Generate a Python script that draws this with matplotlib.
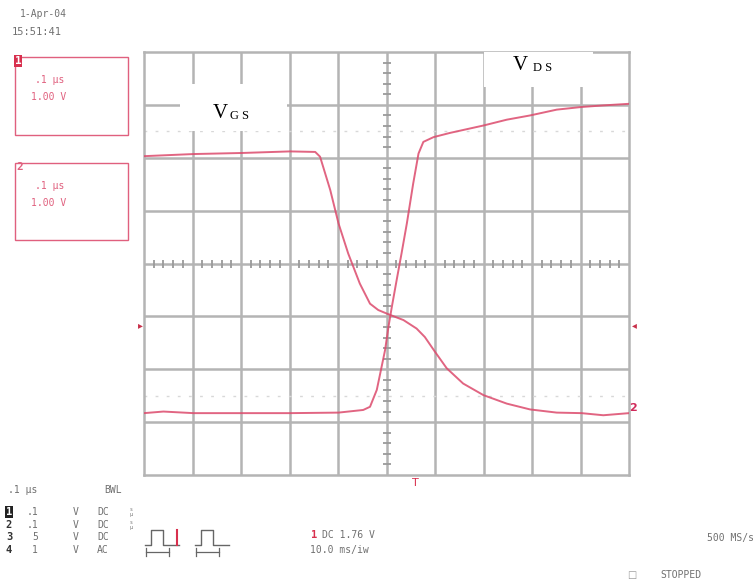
import matplotlib
matplotlib.use("Agg")
import matplotlib.pyplot as plt
from matplotlib.patches import Rectangle

# ---- data (time in divisions 0..10, amplitude in divisions -4..4) ----
vgs_t = [0.0, 1.02, 2.01, 3.01, 3.53, 3.63, 3.84, 4.01, 4.21, 4.45, 4.66, 4.83, 5.04,
         5.35, 5.62, 5.79, 6.0, 6.24, 6.58, 7.0, 7.48, 7.96, 8.51, 9.02, 9.47, 10.0]
vgs_v = [2.03, 2.07, 2.09, 2.12, 2.11, 2.02, 1.39, 0.76, 0.19, -0.38, -0.76, -0.88, -0.96,
         -1.07, -1.23, -1.39, -1.67, -1.98, -2.27, -2.49, -2.65, -2.76, -2.82, -2.83, -2.87, -2.83]
vds_t = [0.0, 0.4, 1.02, 2.01, 3.01, 4.01, 4.52, 4.66, 4.80, 4.90, 4.97, 5.04, 5.11, 5.21,
         5.31, 5.42, 5.55, 5.66, 5.76, 5.97, 6.31, 7.0, 7.48, 7.96, 8.51, 9.02, 9.47, 10.0]
vds_v = [-2.83, -2.80, -2.83, -2.83, -2.83, -2.82, -2.77, -2.71, -2.39, -1.95, -1.64, -1.20,
         -0.82, -0.31, 0.19, 0.76, 1.51, 2.08, 2.30, 2.39, 2.47, 2.61, 2.72, 2.80, 2.91, 2.96, 2.99, 3.02]

date_text = "1-Apr-04"
time_text = "15:51:41"
ch_box_lines = [".1 µs", "1.00 V"]
bottom_rows = [("1", ".1", "V", "DC"), ("2", ".1", "V", "DC"), ("3", "5", "V", "DC"), ("4", "1", "V", "AC")]

W, H = 754, 585
fig = plt.figure(figsize=(W / 100, H / 100), dpi=100)
fig.patch.set_facecolor("white")

def fx(px):
    return px / W

def fy(py):
    return 1 - py / H

L, R, T, B = 144, 629, 52, 475
ax = fig.add_axes([fx(L), fy(B), fx(R - L), (B - T) / H])
ax.set_xlim(0, 10)
ax.set_ylim(-4, 4)
ax.set_xticks([])
ax.set_yticks([])
for s in ax.spines.values():
    s.set_color("#b4b4b4")
    s.set_linewidth(1.8)

grid_c = "#b4b4b4"
for x in range(1, 10):
    ax.axvline(x, color=grid_c, lw=1.8, zorder=1)
for y in range(-3, 4):
    ax.axhline(y, color=grid_c, lw=1.8, zorder=1)
# faint dotted reference lines
for y in (2.5, -2.5):
    ax.axhline(y, color="#d8d8d8", lw=1.0, ls=(0, (2, 6)), zorder=1)
# minor ticks on centre axes
mx = [i * 0.2 for i in range(1, 50) if i % 5 != 0]
ax.plot(mx, [0] * len(mx), ls="none", marker="|", ms=6, mew=1.3, color="#9a9a9a", zorder=2)
my = [-4 + i * 0.2 for i in range(1, 40) if i % 5 != 0]
ax.plot([5] * len(my), my, ls="none", marker="_", ms=6, mew=1.3, color="#9a9a9a", zorder=2)

# white label boxes
ax.add_patch(Rectangle((0.75, 3.4 - 0.0), 2.2, -0.9, transform=ax.transData, facecolor="white",
                       edgecolor="none", zorder=3))
ax.add_patch(Rectangle((7.0, 4.0), 2.25, -0.66, facecolor="white", edgecolor="none", zorder=3, clip_on=False))

trace_c = "#dc4a6c"
ax.plot(vgs_t, vgs_v, color=trace_c, lw=1.4, alpha=0.85, zorder=4)
ax.plot(vds_t, vds_v, color=trace_c, lw=1.4, alpha=0.85, zorder=4)

serif = "Liberation Serif"
fig.text(fx(213), fy(113), "V", fontsize=15, family=serif, va="center", ha="left")
fig.text(fx(230), fy(116), "G S", fontsize=9, family=serif, va="center", ha="left")
fig.text(fx(513), fy(65), "V", fontsize=15, family=serif, va="center", ha="left")
fig.text(fx(533), fy(68), "D S", fontsize=9, family=serif, va="center", ha="left")

mono = "DejaVu Sans Mono"
grey = "#707070"
pink = "#e0607e"
fig.text(fx(20), fy(14), date_text, fontsize=7, family=mono, color=grey, va="center")
fig.text(fx(12), fy(32), time_text, fontsize=7.5, family=mono, color=grey, va="center")

# channel info boxes
for (top, bot, label) in ((57, 135, "1"), (163, 240, "2")):
    fig.patches.append(Rectangle((fx(15), fy(bot)), fx(113), (bot - top) / H, transform=fig.transFigure,
                                 facecolor="none", edgecolor=pink, lw=1.0))
    fig.text(fx(35), fy(top + 23), ch_box_lines[0], fontsize=7, family=mono, color=pink, va="center")
    fig.text(fx(31), fy(top + 40), ch_box_lines[1], fontsize=7, family=mono, color=pink, va="center")
fig.text(fx(18), fy(61), "1", fontsize=8, family=mono, color="white", va="center", ha="center",
         fontweight="bold", bbox=dict(boxstyle="square,pad=0.1", fc="#d8304e", ec="none"))
fig.text(fx(20), fy(167), "2", fontsize=8, family=mono, color=pink, va="center", ha="center", fontweight="bold")

# edge markers
fig.text(fx(140), fy(325), "\u25b8", fontsize=7, color="#c8304a", va="center", ha="center")
fig.text(fx(634), fy(325), "\u25c2", fontsize=7, color="#c8304a", va="center", ha="center")
fig.text(fx(633), fy(408), "2", fontsize=8, color="#d02a5a", va="center", ha="center", fontweight="bold")
fig.text(fx(415), fy(483), "T", fontsize=8, color="#d8304e", va="center", ha="center")

# bottom status block
fig.text(fx(8), fy(490), ".1 µs", fontsize=7, family=mono, color=grey, va="center")
fig.text(fx(104), fy(490), "BWL", fontsize=7, family=mono, color=grey, va="center")
row_y = [512, 525, 537, 550]
for (n, v, u, c), yy in zip(bottom_rows, row_y):
    if n == "1":
        fig.text(fx(9), fy(yy), n, fontsize=7.5, family=mono, color="white", fontweight="bold",
                 va="center", ha="center", bbox=dict(boxstyle="square,pad=0.05", fc="#222222", ec="none"))
    else:
        fig.text(fx(9), fy(yy), n, fontsize=7.5, family=mono, color="#333333", fontweight="bold",
                 va="center", ha="center")
    fig.text(fx(38), fy(yy), v, fontsize=7, family=mono, color=grey, va="center", ha="right")
    fig.text(fx(73), fy(yy), u, fontsize=7, family=mono, color=grey, va="center")
    fig.text(fx(97), fy(yy), c, fontsize=7, family=mono, color=grey, va="center")
    if n in ("1", "2"):
        fig.text(fx(130), fy(yy), "s\nµ", fontsize=3.5, family=mono, color=grey, va="center",
                 linespacing=0.9)

# waveform icons
def icon(x0, red):
    xs = [x0, x0 + 6, x0 + 6, x0 + 18, x0 + 18, x0 + 34]
    ys = [545, 545, 530, 530, 545, 545]
    fig.lines.append(plt.Line2D([fx(a) for a in xs], [fy(b) for b in ys], transform=fig.transFigure,
                                color="#666666", lw=1.0))
    if red:
        fig.lines.append(plt.Line2D([fx(x0 + 32), fx(x0 + 32)], [fy(530), fy(545)], transform=fig.transFigure,
                                    color="#d8304e", lw=1.5))
    fig.lines.append(plt.Line2D([fx(x0 + 1), fx(x0 + 24)], [fy(552), fy(552)], transform=fig.transFigure,
                                color="#666666", lw=0.9))
    for xe in (x0 + 1, x0 + 24):
        fig.lines.append(plt.Line2D([fx(xe), fx(xe)], [fy(548), fy(556)], transform=fig.transFigure,
                                    color="#666666", lw=0.9))

icon(145, True)
icon(195, False)

fig.text(fx(311), fy(535), "1", fontsize=7.5, family=mono, color="#d8304e", fontweight="bold", va="center")
fig.text(fx(322), fy(535), "DC 1.76 V", fontsize=7, family=mono, color=grey, va="center")
fig.text(fx(310), fy(550), "10.0 ms/iw", fontsize=7, family=mono, color=grey, va="center")

fig.text(fx(754), fy(538), "500 MS/s", fontsize=7, family=mono, color=grey, va="center", ha="right")
fig.text(fx(632), fy(575), "\u25a1", fontsize=7, color="#999999", va="center", ha="center")
fig.text(fx(660), fy(575), "STOPPED", fontsize=7, family=mono, color=grey, va="center")

fig.savefig("out.png", dpi=100, facecolor="white")
